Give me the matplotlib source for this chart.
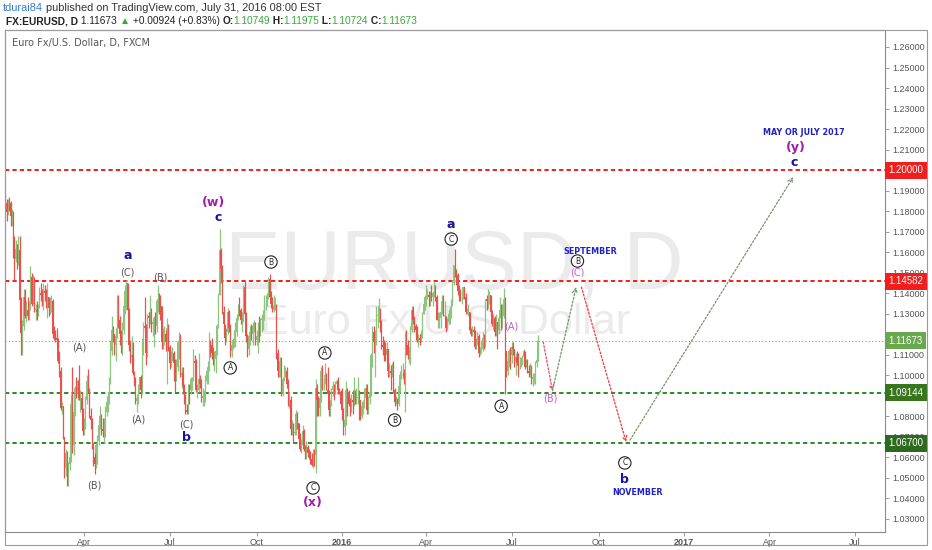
import numpy as np
import pandas as pd
import matplotlib
matplotlib.use("Agg")
import matplotlib.pyplot as plt
from matplotlib.transforms import blended_transform_factory
from matplotlib.patches import Rectangle

# ---------------- data: daily (High, Low, Close) in 1e-4 price units ----------------
first_open = 11880
m2015_01 = [(11890,11810,11838),(11860,11754,11794),(11860,11780,11842),(11870,11800,11838),(11850,11730,11776),
            (11810,11730,11786),(11800,11570,11627),(11680,11460,11567),(11660,11550,11617),(11640,11520,11555),
            (11680,11540,11610),(11680,11310,11367),(11380,11100,11205),(11270,11100,11240),(11420,11220,11380),
            (11420,11280,11290),(11360,11260,11320),(11380,11270,11290)]
m2015_02 = [(11360,11270,11340),(11534,11320,11480),(11500,11340,11350),(11490,11350,11470),(11480,11310,11320),
            (11350,11270,11320),(11360,11270,11310),(11350,11290,11330),(11430,11330,11400),(11450,11360,11390),
            (11420,11340,11380),(11450,11320,11410),(11440,11360,11400),(11420,11330,11380),(11450,11280,11380),
            (11380,11290,11330),(11380,11300,11330),(11390,11310,11360),(11370,11180,11200),(11240,11170,11190)]
m2015_03 = [(11220,11160,11180),(11230,11150,11170),(11180,11060,11070),(11120,10990,11020),(11040,10830,10840),
            (10870,10810,10850),(10850,10690,10700),(10700,10500,10550),(10640,10510,10620),(10630,10460,10490),
            (10580,10460,10570),(10620,10540,10600),(10910,10580,10860),(11040,10620,10660),(10850,10610,10820),
            (10950,10800,10940),(10990,10890,10910),(10980,10880,10970),(11050,10880,10890),(10930,10820,10890),
            (10920,10810,10830),(10840,10710,10730)]
m2015_04 = [(10790,10710,10760),(10900,10740,10880),(11000,10860,10970),(11030,10920,10920),(10940,10790,10800),
            (10840,10740,10780),(10790,10640,10660),(10670,10560,10600),(10620,10520,10570),(10670,10550,10660),
            (10710,10570,10680),(10780,10660,10760),(10850,10740,10800),(10810,10710,10740),(10790,10700,10730),
            (10790,10670,10730),(10850,10700,10820),(10900,10800,10870),(10920,10820,10890),(10990,10860,10980),
            (11170,10960,11120),(11290,11100,11220)]
m2015_05 = [(11240,11160,11200),(11200,11100,11150),(11230,11070,11190),(11390,11180,11350),(11390,11230,11270),
            (11290,11150,11200),(11220,11110,11160),(11260,11100,11220),(11370,11200,11340),(11440,11300,11410),
            (11466,11320,11450),(11440,11290,11320),(11330,11120,11150),(11170,11060,11090),(11190,11060,11100),
            (11160,11000,11010),(11020,10950,10980),(10990,10860,10875),(10910,10820,10890),(10960,10860,10940),
            (10990,10920,10990)]
m2015_06 = [(11000,10890,10930),(11180,10910,11150),(11260,11100,11240),(11380,11210,11230),(11250,11050,11110),
            (11300,11090,11290),(11310,11230,11280),(11390,11250,11310),(11330,11210,11250),(11270,11190,11260),
            (11290,11140,11280),(11310,11200,11240),(11370,11210,11360),(11440,11310,11370),(11400,11300,11350),
            (11390,11270,11340),(11340,11130,11160),(11230,11130,11200),(11240,11150,11200),(11220,11120,11160),
            (11280,10960,11230),(11250,11120,11140)]
m2015_07 = [(11150,11030,11060),(11120,11040,11090),(11140,11070,11110),(11120,10970,11060),(11080,10920,11010),
            (11080,10970,11040),(11170,11020,11160),(11210,11080,11160),(11200,10990,11000),(11040,10940,11010),
            (11040,10910,10950),(10960,10860,10880),(10910,10810,10830),(10860,10810,10820),(10960,10810,10940),
            (10960,10860,10930),(10990,10910,10980),(10990,10930,10980),(11130,10970,11070),(11100,10990,11060),
            (11080,10920,10930),(10960,10890,10930),(11110,10920,10980)]
m2015_08 = [(11000,10940,10960),(10980,10870,10890),(10940,10850,10900),(10930,10850,10920),(11000,10870,10970),
            (11030,10960,11020),(11070,10960,11040),(11210,11020,11160),(11170,11090,11150),(11180,11080,11110),
            (11140,11050,11080),(11120,11020,11080),(11150,11010,11120),(11250,11100,11240),(11400,11230,11390),
            (11714,11400,11610),(11620,11450,11520),(11540,11300,11310),(11340,11200,11250),(11250,11150,11180),
            (11230,11160,11210)]
m2015_09 = [(11330,11200,11310),(11320,11210,11230),(11250,11090,11120),(11170,11090,11150),(11180,11130,11170),
            (11220,11140,11200),(11260,11140,11210),(11300,11190,11280),(11350,11270,11340),(11380,11290,11320),
            (11330,11250,11270),(11310,11210,11290),(11440,11260,11430),(11460,11290,11300),(11310,11160,11190),
            (11200,11090,11130),(11200,11100,11190),(11240,11150,11210),(11250,11170,11200),(11260,11150,11240),
            (11270,11210,11250),(11260,11150,11170)]
m2015_10 = [(11220,11150,11190),(11260,11110,11210),(11290,11160,11190),(11280,11190,11270),(11300,11210,11280),
            (11320,11220,11280),(11390,11270,11360),(11390,11320,11360),(11400,11340,11380),(11480,11370,11470),
            (11495,11370,11380),(11410,11330,11350),(11380,11310,11320),(11390,11310,11340),(11380,11320,11340),
            (11350,11080,11110),(11130,10990,11020),(11070,10990,11050),(11090,10990,11050),(11090,10900,10920),
            (10990,10900,10980),(11050,10970,11010)]
m2015_11 = [(11040,10990,11020),(11040,10940,10960),(10980,10850,10860),(10920,10840,10880),(10900,10710,10740),
            (10780,10710,10750),(10770,10670,10720),(10770,10710,10720),(10830,10710,10810),(10820,10740,10770),
            (10760,10670,10690),(10720,10630,10640),(10690,10620,10660),(10760,10640,10730),(10740,10630,10640),
            (10660,10590,10630),(10680,10590,10650),(10660,10600,10620),(10640,10590,10610),(10630,10570,10590),
            (10620,10560,10565)]
m2015_12 = [(10640,10550,10630),(10640,10560,10610),(10980,10524,10940),(10960,10800,10880),(10900,10800,10840),
            (10900,10800,10890),(11040,10870,11020),(11050,10930,10990),(10990,10930,10990),(11060,10960,11000),
            (11010,10930,10930),(11040,10900,10910),(10930,10800,10830),(10880,10800,10870),(10940,10850,10930),
            (10970,10900,10950),(10960,10880,10920),(10970,10910,10960),(10980,10940,10970),(10990,10910,10930),
            (10940,10910,10920),(10930,10850,10860)]
m2016_01 = [(10940,10780,10830),(10840,10710,10750),(10800,10710,10780),(10970,10760,10930),(10940,10800,10920),
            (10930,10850,10860),(10890,10800,10850),(10910,10820,10880),(10930,10810,10870),(10990,10850,10920),
            (10930,10860,10890),(10940,10860,10890),(10990,10860,10890),(10930,10780,10880),(10880,10780,10800),
            (10860,10790,10850),(10880,10810,10870),(10940,10840,10890),(10960,10880,10940),(10960,10810,10830)]
m2016_02 = [(10900,10810,10890),(10940,10860,10920),(11110,10900,11100),(11240,11040,11210),(11240,11110,11160),
            (11220,10990,11190),(11340,11150,11290),(11340,11230,11290),(11376,11260,11320),(11330,11210,11260),
            (11270,11130,11150),(11190,11100,11140),(11170,11070,11130),(11160,11070,11100),(11160,11060,11130),
            (11100,10990,11020),(11060,10990,11020),(11050,10930,11010),(11060,10990,11020),(11070,10920,10930),
            (10940,10850,10870)]
m2016_03 = [(10900,10860,10870),(10890,10830,10860),(10960,10850,10950),(11020,10920,11000),(11050,10980,11010),
            (11060,10980,11010),(11030,10960,10990),(11210,10822,11180),(11220,11100,11150),(11170,11080,11100),
            (11140,11060,11100),(11240,11050,11220),(11340,11210,11320),(11340,11250,11270),(11290,11210,11240),
            (11250,11170,11220),(11240,11160,11180),(11200,11140,11180),(11200,11150,11170),(11220,11160,11200),
            (11310,11180,11300),(11370,11300,11350),(11390,11320,11380)]
m2016_04 = [(11440,11340,11390),(11420,11370,11390),(11410,11340,11380),(11410,11340,11400),(11440,11360,11380),
            (11410,11340,11400),(11460,11380,11410),(11440,11360,11380),(11390,11270,11270),(11310,11230,11270),
            (11310,11230,11280),(11330,11230,11310),(11390,11300,11360),(11390,11290,11290),(11360,11280,11290),
            (11290,11210,11230),(11280,11220,11260),(11310,11250,11300),(11340,11250,11320),(11370,11280,11350),
            (11460,11340,11450)]
m2016_05 = [(11540,11440,11540),(11616,11480,11500),(11520,11440,11490),(11500,11390,11410),(11440,11360,11400),
            (11420,11360,11380),(11400,11350,11380),(11430,11370,11430),(11430,11370,11380),(11400,11300,11310),
            (11330,11300,11310),(11350,11290,11310),(11310,11210,11220),(11230,11190,11200),(11240,11190,11220),
            (11240,11190,11210),(11220,11130,11140),(11180,11130,11150),(11210,11150,11190),(11200,11090,11110),
            (11140,11100,11130),(11170,11110,11130)]
m2016_06 = [(11210,11120,11180),(11200,11130,11150),(11370,11140,11370),(11390,11320,11360),(11420,11330,11360),
            (11410,11350,11390),(11390,11290,11310),(11320,11240,11250),(11300,11220,11280),(11290,11190,11210),
            (11300,11190,11260),(11260,11130,11220),(11290,11200,11280),(11380,11280,11320),(11350,11220,11240),
            (11350,11230,11290),(11427,11280,11370),(11380,10911,11120),(11100,10990,11020),(11090,11000,11070),
            (11130,11040,11120),(11140,11030,11100)]
m2016_07 = [(11160,11060,11140),(11160,11100,11130),(11130,11040,11070),(11110,11000,11090),(11120,11050,11060),
            (11110,10990,11050),(11090,11030,11050),(11090,11040,11060),(11100,11050,11090),(11130,11060,11120),
            (11120,11030,11040),(11080,11040,11070),(11080,11010,11020),(11050,10990,11010),(11060,10990,11030),
            (11050,10960,10980),(11010,10950,10990),(11010,10960,10990),(11070,10960,11060),(11090,11040,11075),
            (11198,11072,11167)]
months = [("2015-01-07", m2015_01), ("2015-02-01", m2015_02), ("2015-03-01", m2015_03), ("2015-04-01", m2015_04),
          ("2015-05-01", m2015_05), ("2015-06-01", m2015_06), ("2015-07-01", m2015_07), ("2015-08-01", m2015_08),
          ("2015-09-01", m2015_09), ("2015-10-01", m2015_10), ("2015-11-01", m2015_11), ("2015-12-01", m2015_12),
          ("2016-01-01", m2016_01), ("2016-02-01", m2016_02), ("2016-03-01", m2016_03), ("2016-04-01", m2016_04),
          ("2016-05-01", m2016_05), ("2016-06-01", m2016_06), ("2016-07-01", m2016_07)]
holidays = ["2015-12-25", "2016-01-01"]

# horizontal levels
red_levels = [1.20000, 1.14582]
green_levels = [1.09144, 1.06700]
last_price = 1.11673

y_ticks = [1.03, 1.04, 1.05, 1.06, 1.07, 1.08, 1.09, 1.10, 1.11, 1.12, 1.13, 1.14, 1.15,
           1.16, 1.17, 1.18, 1.19, 1.20, 1.21, 1.22, 1.23, 1.24, 1.25, 1.26]
x_tick_dates = ["2015-04-01", "2015-07-01", "2015-10-01", "2016-01-04", "2016-04-01", "2016-07-01",
                "2016-10-03", "2017-01-02", "2017-04-03", "2017-07-03"]
x_tick_labels = ["Apr", "Jul", "Oct", "2016", "Apr", "Jul", "Oct", "2017", "Apr", "Jul"]

# projection path (date, price)
proj_dates = ["2016-08-04", "2016-08-15", "2016-09-08", "2016-09-14", "2016-11-01", "2016-11-04", "2017-04-27"]
proj_prices = [1.1162, 1.0925, 1.1430, 1.1430, 1.0675, 1.0685, 1.1966]

# wave labels: (date, price, text, style)
labels = [
    ("2015-03-26", 1.1138, "(A)", "gray"), ("2015-04-13", 1.0461, "(B)", "gray"),
    ("2015-05-16", 1.1586, "a", "blue"), ("2015-05-16", 1.1503, "(C)", "gray"),
    ("2015-06-20", 1.1479, "(B)", "gray"), ("2015-05-28", 1.0787, "(A)", "gray"),
    ("2015-07-19", 1.0758, "(C)", "gray"), ("2015-07-19", 1.0695, "b", "blue"),
    ("2015-08-16", 1.1840, "(w)", "mag"), ("2015-08-21", 1.1767, "c", "blue"),
    ("2015-09-03", 1.1036, "A", "circ"), ("2015-10-16", 1.1552, "B", "circ"),
    ("2015-12-14", 1.1109, "A", "circ"), ("2015-12-01", 1.0451, "C", "circ"),
    ("2015-12-01", 1.0378, "(x)", "mag"), ("2016-02-29", 1.0782, "B", "circ"),
    ("2016-04-28", 1.1737, "a", "blue"), ("2016-04-28", 1.1664, "C", "circ"),
    ("2016-06-21", 1.0850, "A", "circ"), ("2016-07-01", 1.1236, "(A)", "lmag"),
    ("2016-08-11", 1.0885, "(B)", "lmag"), ("2016-09-23", 1.1601, "SEPTEMBER", "month"),
    ("2016-09-09", 1.1557, "B", "circ"), ("2016-09-09", 1.1503, "(C)", "lmag"),
    ("2017-05-09", 1.2181, "MAY OR JULY 2017", "month"), ("2017-05-01", 1.2108, "(y)", "mag"),
    ("2017-04-28", 1.2035, "c", "blue"), ("2016-10-31", 1.0573, "C", "circ"),
    ("2016-10-31", 1.0490, "b", "blue"), ("2016-11-13", 1.0431, "NOVEMBER", "month"),
]

# ---------------- build series ----------------
dates, H, L, C = [], [], [], []
for start, rows in months:
    s = pd.Timestamp(start)
    days = [d for d in pd.bdate_range(s, s + pd.offsets.MonthEnd(0)) if d.strftime("%Y-%m-%d") not in holidays]
    n = min(len(days), len(rows))
    for d, (h, l, c) in zip(days[:n], rows[:n]):
        dates.append(d); H.append(h / 1e4); L.append(l / 1e4); C.append(c / 1e4)
H, L, C = np.array(H), np.array(L), np.array(C)
O = np.concatenate([[first_open / 1e4], C[:-1]])
O[-1] = 1.10749
H = np.maximum(H, np.maximum(O, C)); L = np.minimum(L, np.minimum(O, C))

timeline = pd.DatetimeIndex([d for d in pd.bdate_range("2015-01-07", "2017-12-29")
                             if d.strftime("%Y-%m-%d") not in holidays])
def X(d):
    return float(timeline.searchsorted(pd.Timestamp(d)))
xs = np.array([X(d) for d in dates])

# ---------------- figure ----------------
W, HP = 932, 550
fig = plt.figure(figsize=(W / 100, HP / 100), dpi=100)
fig.patch.set_facecolor("white")
ax = fig.add_axes([5 / W, 18 / HP, 880 / W, 502 / HP])
ax.set_facecolor("white")

i16, i17 = X("2016-01-04"), X("2017-01-02")
ppb = (684 - 342) / (i17 - i16)
ax.set_xlim(i16 - (342 - 5) / ppb, i16 + (885 - 342) / ppb)
ax.set_ylim(1.26 - (532 - 47) / 2052, 1.26 + (47 - 30) / 2052)

# watermark
ax.text(0.511, 0.486, "EURUSD, D", transform=ax.transAxes, ha="center", va="baseline",
        fontsize=60, color="#ebebeb", family="Liberation Sans", zorder=0)
ax.text(0.50, 0.394, "Euro Fx/U.S. Dollar", transform=ax.transAxes, ha="center", va="baseline",
        fontsize=31, color="#ebebeb", family="Liberation Sans", zorder=0)

# candles
upc, dnc = "#8cc67e", "#e8524a"
up = C >= O
for mask, col in ((up, upc), (~up, dnc)):
    ax.vlines(xs[mask], L[mask], H[mask], color=col, lw=0.9, zorder=3)
    body = np.maximum(np.abs(C - O)[mask], 0.0002)
    ax.bar(xs[mask], body, bottom=np.minimum(O, C)[mask], width=0.85, color=col, linewidth=0, zorder=3)

# horizontal levels
for lv in red_levels:
    ax.axhline(lv, color="#f21d1d", lw=1.4, ls=(0, (2.2, 1.6)), zorder=2)
for lv in green_levels:
    ax.axhline(lv, color="#2b8a2b", lw=1.4, ls=(0, (2.2, 1.6)), zorder=2)
ax.axhline(last_price, color="#7aa84f", lw=0.8, ls=(0, (1, 2)), zorder=2)

# projection arrows
pcols = ["#ff3d6e", "#6d9a5a", None, "#f03a3a", None, "#7c8f6a"]
px = [X(d) for d in proj_dates]
for i, col in enumerate(pcols):
    if col is None:
        continue
    ax.annotate("", xy=(px[i + 1], proj_prices[i + 1]), xytext=(px[i], proj_prices[i]),
                arrowprops=dict(arrowstyle="->,head_length=0.35,head_width=0.18", color=col,
                                lw=0.9, ls=(0, (1.5, 1.5)), shrinkA=0, shrinkB=0), zorder=4)

# labels
for d, p, t, st in labels:
    xx = X(d)
    if st == "gray":
        ax.text(xx, p, t, ha="center", va="center", fontsize=7, color="#555555", family="DejaVu Sans", zorder=6)
    elif st == "blue":
        ax.text(xx, p, t, ha="center", va="center", fontsize=9, color="#16169a", fontweight="bold", zorder=6)
    elif st == "mag":
        ax.text(xx, p, t, ha="center", va="center", fontsize=9, color="#a21ca8", fontweight="bold", zorder=6)
    elif st == "lmag":
        ax.text(xx, p, t, ha="center", va="center", fontsize=7, color="#c25ccc", zorder=6)
    elif st == "month":
        ax.text(xx, p, t, ha="center", va="center", fontsize=5.8, color="#2020c8", fontweight="bold", zorder=6)
    elif st == "circ":
        ax.text(xx, p, t, ha="center", va="center", fontsize=5.5, color="#222222", zorder=6,
                bbox=dict(boxstyle="circle,pad=0.22", fc="white", ec="#222222", lw=0.8))

# axes styling
for sp in ax.spines.values():
    sp.set_color("#8a8a8a"); sp.set_linewidth(0.8)
ax.yaxis.tick_right()
ax.set_yticks(y_ticks)
ax.set_yticklabels(["%.5f" % v for v in y_ticks])
ax.tick_params(axis="y", colors="#8a8a8a", labelcolor="#555555", labelsize=6.5, length=3, width=0.6, pad=2)
ax.set_xticks([X(d) for d in x_tick_dates])
ax.set_xticklabels(x_tick_labels)
ax.tick_params(axis="x", colors="#8a8a8a", labelcolor="#555555", labelsize=6.5, length=3, width=0.6, pad=1.5)
for lab in ax.get_xticklabels() + ax.get_yticklabels():
    lab.set_family("Liberation Sans")
for lab in ax.get_xticklabels():
    if lab.get_text() in ("2016", "2017"):
        lab.set_fontweight("bold")

# price boxes on the axis
tr = blended_transform_factory(ax.transAxes, ax.transData)
for lv, bg in ((1.20000, "#f21d1d"), (1.14582, "#f21d1d"), (last_price, "#6aa84f"),
               (1.09144, "#38761d"), (1.06700, "#2d6a1f")):
    ax.text(1.0042, lv, "%.5f" % lv, transform=tr, ha="left", va="center", fontsize=7,
            color="white", family="Liberation Sans", clip_on=False, zorder=10,
            bbox=dict(boxstyle="square,pad=0.36", fc=bg, ec="none"))

ax.text(7 / 880, (532 - 43) / 502, "Euro Fx/U.S. Dollar, D, FXCM", transform=ax.transAxes,
        ha="left", va="center", fontsize=7, color="#555555", family="DejaVu Sans")

# outer frame
fig.add_artist(Rectangle((5 / W, 5 / HP), 922 / W, 515 / HP, transform=fig.transFigure,
                         fill=False, ec="#9a9a9a", lw=0.8))

# header
renderer = fig.canvas.get_renderer()
def seq(x, y, parts, size=8):
    for s, col, w in parts:
        t = fig.text(x / W, 1 - y / HP, s, color=col, fontweight=w, fontsize=size, ha="left",
                     va="center", family="Liberation Sans")
        x += t.get_window_extent(renderer=renderer).width

seq(3, 8, [("tdurai84", "#2f7fd0", "normal"),
           (" published on TradingView.com, July 31, 2016 08:00 EST", "#333333", "normal")], size=7.9)
g = "#3aa83a"
seq(6, 21, [("FX:EURUSD, D", "#222222", "bold"), (" 1.11673 ", "#222222", "normal"), ("\u25B2", g, "normal"),
            (" +0.00924 (+0.83%) ", "#222222", "normal"), ("O:", "#222222", "bold"), ("1.10749", g, "normal"),
            (" H:", "#222222", "bold"), ("1.11975", g, "normal"), (" L:", "#222222", "bold"),
            ("1.10724", g, "normal"), (" C:", "#222222", "bold"), ("1.11673", g, "normal")], size=7.3)

fig.savefig("out.png", dpi=100)
